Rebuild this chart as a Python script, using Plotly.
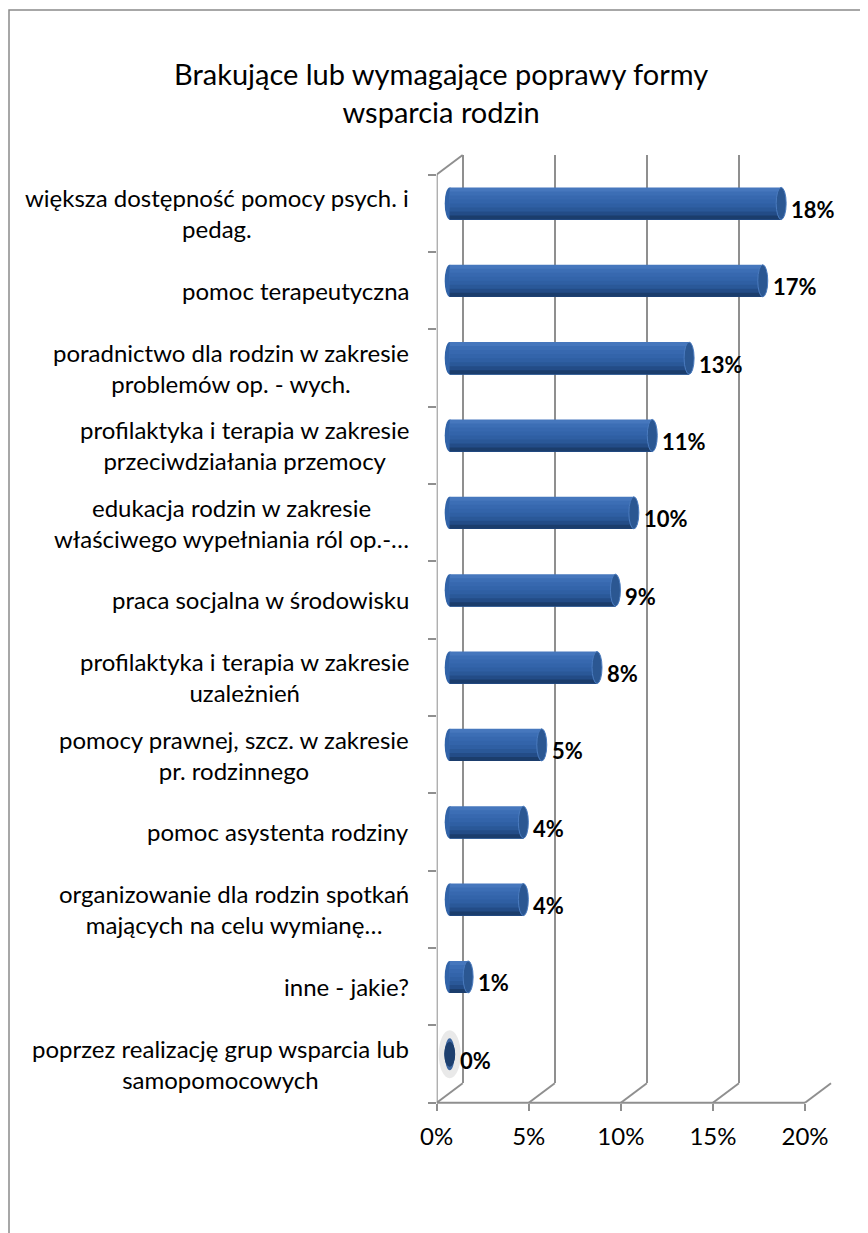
import plotly.graph_objects as go

# ---------------- data ----------------
categories = [
    "większa dostępność pomocy psych. i<br>pedag.",
    "pomoc terapeutyczna",
    "poradnictwo dla rodzin w zakresie<br>problemów op. - wych.",
    "profilaktyka i terapia w zakresie<br>przeciwdziałania przemocy",
    "edukacja rodzin w zakresie<br>właściwego wypełniania ról op.-…",
    "praca socjalna w środowisku",
    "profilaktyka i terapia w zakresie<br>uzależnień",
    "pomocy prawnej, szcz. w zakresie<br>pr. rodzinnego",
    "pomoc asystenta rodziny",
    "organizowanie dla rodzin spotkań<br>mających na celu wymianę…",
    "inne - jakie?",
    "poprzez realizację grup wsparcia lub<br>samopomocowych",
]
values = [18, 17, 13, 11, 10, 9, 8, 5, 4, 4, 1, 0]
tick_values = [0, 5, 10, 15, 20]
tick_labels = ["0%", "5%", "10%", "15%", "20%"]
title_text = "Brakujące lub wymagające poprawy formy<br>wsparcia rodzin"

# ---------------- geometry / style ----------------
W, H = 868, 1233
OX, OY = 8, 8           # page (body) margin compensation
FONT = "Lato"
GRID = "#8f8f8f"
FRONT_X0 = 436.7 - OX   # px of 0% on the front plane
SCALE = 18.415          # px per percentage point
DX, DY = 26.0, 19.5     # 3-D depth offset (px)
FRONT_TOP, FRONT_BOTTOM = 174.5 - OY, 1102.7 - OY
AXIS_MAX = tick_values[-1]
N = len(categories)
BAR_W = 0.414           # bar thickness (category units)
CAP_R = 5.0 / SCALE     # cylinder cap half-width (data units)

x_lo = FRONT_X0 / W
x_hi = (FRONT_X0 + DX + SCALE * AXIS_MAX + 1) / W
span = (DX + SCALE * AXIS_MAX + 1) / SCALE
d = DX / SCALE

def ydom(top_px, bottom_px):
    return [1 - bottom_px / H, 1 - top_px / H]

front_dom = ydom(FRONT_TOP, FRONT_BOTTOM)
mid_dom = ydom(FRONT_TOP - DY / 2, FRONT_BOTTOM - DY / 2)
back_dom = ydom(FRONT_TOP - DY, FRONT_BOTTOM - DY)

fig = go.Figure()

# back wall subplot (gridlines) -> x / y
fig.add_trace(go.Scatter(x=[], y=[], xaxis="x", yaxis="y", showlegend=False))
# front axis subplot -> x3 / y3
fig.add_trace(go.Scatter(x=[], y=[], xaxis="x3", yaxis="y3", showlegend=False))

# cylinder bars: overlapping colour bands to mimic shading (top -> bottom)
band_colors = ["#4677bd", "#3c6eb5", "#3768af", "#3364aa", "#2f5fa3",
               "#2a5898", "#234c87", "#1b3d6c"]
nb = len(band_colors)
bw = BAR_W / nb
for b, c in enumerate(band_colors):
    fig.add_trace(go.Bar(
        x=values, y=categories, orientation="h",
        width=BAR_W - b * bw, offset=-BAR_W / 2 + b * bw,
        marker=dict(color=c, line=dict(width=0)),
        xaxis="x2", yaxis="y2", showlegend=False, hoverinfo="skip",
    ))

shapes = []
annotations = []

# outer chart border
shapes.append(dict(type="rect", xref="paper", yref="paper",
                   x0=(9 - OX) / W, x1=1.02, y0=-0.02, y1=1 - (10 - OY) / H,
                   line=dict(color="#8a8a8a", width=1.5), layer="below"))

for i, v in enumerate(values):
    # rounded left end
    shapes.append(dict(type="circle", xref="x2", yref="y2", layer="below",
                       x0=-CAP_R, x1=CAP_R, y0=i - BAR_W / 2, y1=i + BAR_W / 2,
                       fillcolor="#3163a8", line=dict(width=0)))
    if v == 0:
        shapes.append(dict(type="circle", xref="x2", yref="y2", layer="below",
                           x0=-CAP_R * 2.2, x1=CAP_R * 2.2,
                           y0=i - BAR_W * 0.75, y1=i + BAR_W * 0.75,
                           fillcolor="rgba(120,120,120,0.16)", line=dict(width=0)))
    # end cap
    cap_h = BAR_W if v > 0 else BAR_W * 0.75
    shapes.append(dict(type="circle", xref="x2", yref="y2",
                       x0=v - CAP_R, x1=v + CAP_R, y0=i - cap_h / 2, y1=i + cap_h / 2,
                       fillcolor="#2b5792" if v > 0 else "#1d3f6e",
                       line=dict(color="#4a7bbf" if v > 0 else "#1d3f6e", width=1)))
    # data label
    annotations.append(dict(xref="x2", yref="y2", x=v + CAP_R, y=i,
                            text=f"{v}%", showarrow=False, xanchor="left",
                            xshift=3, yshift=-6,
                            font=dict(family=FONT, size=22, color="#000000", weight="bold")))
    # category label
    annotations.append(dict(xref="paper", yref="y3", x=(411 - OX) / W, y=i + 0.5,
                            text=categories[i], showarrow=False, xanchor="right",
                            align="center",
                            font=dict(family=FONT, size=24, color="#000000")))

# 3-D box lines
line_style = dict(color=GRID, width=2)
shapes.append(dict(type="line", xref="x3", yref="y3 domain", x0=0, x1=0, y0=0, y1=1,
                   line=line_style))
shapes.append(dict(type="line", xref="x3", yref="y3 domain", x0=0, x1=AXIS_MAX,
                   y0=0, y1=0, line=line_style))
shapes.append(dict(type="line", xref="x3", yref="paper", x0=0, x1=d,
                   y0=front_dom[1], y1=back_dom[1], line=line_style))
for t in tick_values:
    shapes.append(dict(type="line", xref="x3", yref="paper", x0=t, x1=t + d,
                       y0=front_dom[0], y1=back_dom[0], line=line_style))

# title
annotations.append(dict(xref="paper", yref="paper", x=(441 - OX) / W,
                        y=1 - (93 - OY) / H,
                        text=title_text, showarrow=False, xanchor="center",
                        yanchor="middle", align="center",
                        font=dict(family=FONT, size=29, color="#000000")))

fig.update_layout(
    template="none",
    width=W, height=H, autosize=False,
    margin=dict(l=0, r=0, t=0, b=0, pad=0),
    paper_bgcolor="white", plot_bgcolor="rgba(0,0,0,0)",
    barmode="overlay", showlegend=False,
    font=dict(family=FONT, size=22, color="#000000"),
    shapes=shapes, annotations=annotations,
    xaxis=dict(domain=[x_lo, x_hi], range=[-d, span - d], anchor="y",
               tickvals=tick_values, showticklabels=False, ticks="",
               showgrid=True, gridcolor=GRID, gridwidth=2, zeroline=False,
               showline=False, fixedrange=True, automargin=False),
    yaxis=dict(domain=back_dom, range=[0, 1], anchor="x", visible=False,
               showgrid=False, zeroline=False, fixedrange=True, automargin=False),
    xaxis2=dict(domain=[x_lo, x_hi], range=[-d / 2, span - d / 2], anchor="y2",
                visible=False, showgrid=False, zeroline=False, fixedrange=True,
                automargin=False),
    yaxis2=dict(domain=mid_dom, type="category", categoryorder="array",
                categoryarray=categories, range=[N - 0.5, -0.5], anchor="x2",
                visible=False, showgrid=False, zeroline=False, fixedrange=True,
                automargin=False),
    xaxis3=dict(domain=[x_lo, x_hi], range=[0, span], anchor="y3",
                tickvals=tick_values, ticktext=tick_labels, ticks="outside",
                ticklen=7, tickwidth=2, tickcolor=GRID, showgrid=False,
                zeroline=False, showline=False, ticklabelstandoff=5,
                tickfont=dict(family=FONT, size=24, color="#000000"),
                fixedrange=True, automargin=False),
    yaxis3=dict(domain=front_dom, range=[N, 0], anchor="x3",
                tickvals=list(range(N + 1)), ticks="outside", ticklen=8,
                tickwidth=2, tickcolor=GRID, showticklabels=False,
                showgrid=False, zeroline=False, showline=False, fixedrange=True,
                automargin=False),
)

fig.write_html("out.html")
